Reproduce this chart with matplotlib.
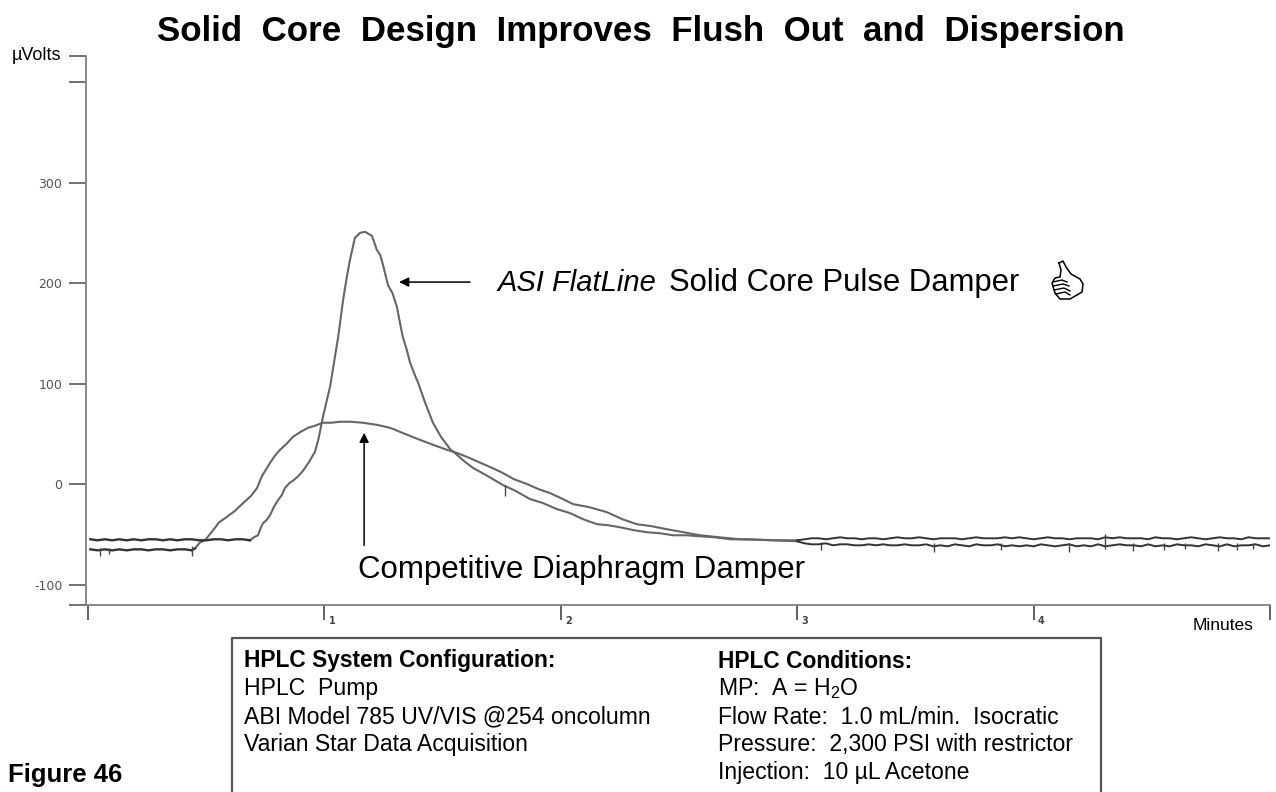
import numpy as np
import matplotlib
matplotlib.use('Agg')
import matplotlib.pyplot as plt
from matplotlib.lines import Line2D

plt.rcParams['font.family'] = ['Liberation Sans', 'DejaVu Sans']
plt.rcParams['mathtext.default'] = 'regular'

W, H = 1276, 792

# solid core damper trace (tall peak)
tall_start = [-55, -56, -55, -56, -55, -56, -55, -56, -55, -55, -56, -55, -56, -55, -55, -56, -56, -55, -55, -56, -55, -55, -56]
tall_min = [0.685, 0.702, 0.719, 0.730, 0.740, 0.755, 0.770, 0.788, 0.804, 0.820, 0.833, 0.852, 0.871, 0.890, 0.909, 0.935,
            0.960, 0.975, 0.994, 1.008, 1.024, 1.040, 1.058, 1.079, 1.094, 1.108,
            1.129, 1.151, 1.172, 1.201, 1.222, 1.236, 1.248, 1.269, 1.288, 1.307, 1.320, 1.332, 1.348, 1.362, 1.380, 1.396, 1.426, 1.459, 1.493, 1.531,
            1.561, 1.595, 1.629, 1.690, 1.755, 1.810, 1.870, 1.925, 1.984, 2.040, 2.094, 2.153, 2.200, 2.250, 2.310, 2.365, 2.420, 2.475, 2.530, 2.589,
            2.65, 2.72, 2.80, 2.90, 3.00]
tall_uv = [-56, -53, -51, -44, -39, -36, -31, -22, -16, -11, -4, 1, 4, 8, 13, 22,
           32, 45, 67, 81, 97, 120, 146, 183, 205, 223,
           245, 250, 251, 247, 233, 228, 218, 198, 190, 176, 160, 146, 134, 121, 110, 101, 81, 61, 47, 35,
           29, 22, 16, 8, -1, -7, -15, -19, -25, -29, -35, -40, -41, -43, -46, -48, -49, -51, -51, -52,
           -53, -55, -55, -56, -56]
tall_end = [-56, -55, -54, -54, -55, -54, -53, -54, -54, -55, -54, -54, -55, -54, -53, -54, -54, -53, -54, -55, -54, -54, -54, -55,
            -54, -53, -54, -54, -54, -53, -54, -53, -54, -55, -54, -53, -54, -54, -55, -54, -54, -54, -55, -53, -54, -53, -54, -54,
            -54, -55, -53, -54, -54, -55, -54, -53, -54, -55, -54, -53, -54, -54, -55, -53, -54, -54, -54]

# competitive diaphragm damper trace (broad peak)
broad_start = [-65, -66, -65, -66, -65, -66, -65, -65, -66, -65, -65, -66, -65, -65, -66]
broad_min = [0.453, 0.474, 0.495, 0.529, 0.555, 0.580, 0.620, 0.656, 0.689, 0.715, 0.736, 0.770, 0.790, 0.812, 0.840, 0.867, 0.900, 0.931,
             0.960, 0.994, 1.030, 1.066, 1.110, 1.163, 1.220, 1.277, 1.340, 1.404, 1.460, 1.519, 1.560, 1.603, 1.671, 1.710, 1.755, 1.800, 1.857,
             1.905, 1.954, 2.000, 2.052, 2.120, 2.195, 2.260, 2.322, 2.385, 2.449, 2.520, 2.589, 2.670, 2.758, 2.90, 3.00]
broad_uv = [-64, -58, -56, -46, -38, -34, -27, -19, -12, -4, 8, 21, 28, 34, 40, 47, 52, 56,
            58, 61, 61, 62, 62, 61, 59, 56, 50, 44, 39, 34, 31, 27, 20, 16, 11, 5, 0,
            -5, -9, -14, -20, -23, -28, -35, -40, -42, -45, -48, -51, -53, -55, -56, -57]
broad_end = [-57, -59, -60, -60, -59, -61, -60, -60, -61, -61, -60, -61, -60, -61, -61, -60, -61, -61, -60, -62, -61, -62, -60, -61,
             -62, -60, -61, -61, -60, -62, -61, -62, -61, -62, -60, -61, -62, -61, -60, -62, -61, -62, -60, -62, -61, -60, -61, -61,
             -62, -60, -62, -61, -62, -60, -61, -61, -62, -60, -61, -62, -60, -62, -61, -61, -60, -62, -61]

# narrow noise spikes on the flat parts of both traces
spike_min = [0.05, 0.09, 0.44, 1.762, 3.10, 3.58, 3.86, 4.15, 4.30, 4.42, 4.55, 4.64, 4.78, 4.86, 4.93]
spike_low = [-72, -70, -72, -12, -66, -68, -66, -68, -65, -67, -66, -65, -67, -66, -65]
spike_high = [-64, -64, -62, -1, -58, -59, -59, -59, -50, -59, -59, -59, -59, -59, -59]

start_grid = np.linspace(0.01, 0.685, len(tall_start))
broad_grid = np.linspace(0.01, 0.44, len(broad_start))
end_grid = np.linspace(3.0, 5.0, len(tall_end))

x_ticks = [0, 1, 2, 3, 4, 5]
x_labels = ['', '1', '2', '3', '4', '']
y_ticks = [426, 400, 300, 200, 100, 0, -100, -120.4]
y_labels = ['', '', '300', '200', '100', '0', '-100', '']

left_lines = ['HPLC  Pump', 'ABI Model 785 UV/VIS @254 oncolumn', 'Varian Star Data Acquisition']
right_lines = ['MP:  A = H$_2$O', 'Flow Rate:  1.0 mL/min.  Isocratic', 'Pressure:  2,300 PSI with restrictor',
               'Injection:  10 µL Acetone']


def px(x, y):
    return x / W, 1 - y / H


fig = plt.figure(figsize=(W / 100, H / 100), dpi=100)
ax = fig.add_axes([86 / W, 1 - 605 / H, (1270 - 86) / W, (605 - 56) / H])
ax.set_xlim(-0.0085, 5.0)
ax.set_ylim(-120.4, 425.9)

ax.plot(tall_min, tall_uv, color='#666666', lw=1.5)
ax.plot(broad_min, broad_uv, color='#666666', lw=1.5)
ax.plot(start_grid, tall_start, color='#333333', lw=1.7)
ax.plot(broad_grid, broad_start, color='#333333', lw=1.7)
ax.plot(end_grid, tall_end, color='#333333', lw=1.4)
ax.plot(end_grid, broad_end, color='#333333', lw=1.4)
ax.plot([broad_grid[-1], broad_min[0]], [broad_start[-1], broad_uv[0]], color='#333333', lw=1.5)
ax.vlines(spike_min, spike_low, spike_high, color='#444444', lw=1.0)

for s in ['top', 'right']:
    ax.spines[s].set_visible(False)
for s in ['left', 'bottom']:
    ax.spines[s].set_color('#808080')
    ax.spines[s].set_linewidth(1.3)

ax.set_xticks(x_ticks)
ax.set_xticklabels([])
ax.tick_params(axis='x', direction='out', length=11, width=1.3, color='#555555')
ax.set_yticks(y_ticks)
ax.set_yticklabels(y_labels, family='DejaVu Sans', fontsize=9, color='#555555')
ax.tick_params(axis='y', direction='out', length=12, width=1.3, color='#666666', pad=5)
for t, lab in zip(x_ticks, x_labels):
    ax.annotate(lab, (t, 0), xycoords=('data', 'axes fraction'), xytext=(3, -14), textcoords='offset points',
                family='DejaVu Sans', fontsize=7, color='#444444', weight='bold')

# arrows
ax.annotate('', xy=(1.316, 201), xytext=(1.616, 201),
            arrowprops=dict(arrowstyle='-|>', color='black', lw=1.1, mutation_scale=14, shrinkA=0, shrinkB=0))
ax.annotate('', xy=(1.168, 51), xytext=(1.168, -61),
            arrowprops=dict(arrowstyle='-|>', color='black', lw=1.1, mutation_scale=14, shrinkA=0, shrinkB=0))

# texts
fig.text(*px(641, 31), 'Solid  Core  Design  Improves  Flush  Out  and  Dispersion', ha='center', va='center',
         fontsize=25.1, weight='bold')
fig.text(*px(61, 56), 'µVolts', ha='right', va='center', fontsize=13)
fig.text(*px(1253, 625), 'Minutes', ha='right', va='center', fontsize=12.5)
fig.text(*px(497, 283), 'ASI FlatLine', ha='left', va='center', fontsize=21, style='italic')
fig.text(*px(669, 283), 'Solid Core Pulse Damper', ha='left', va='center', fontsize=22.3)
fig.text(*px(358, 570), 'Competitive Diaphragm Damper', ha='left', va='center', fontsize=22.5)
fig.text(*px(8, 775), 'Figure 46', ha='left', va='center', fontsize=18.5, weight='bold')

# info box, open at the bottom of the page
fig.add_artist(Line2D([232 / W, 232 / W, 1101 / W, 1101 / W], [0, 1 - 638 / H, 1 - 638 / H, 0], color='#555555', lw=1.6))
fig.text(*px(244, 661), 'HPLC System Configuration:', va='center', fontsize=16.4, weight='bold')
fig.text(*px(718, 661), 'HPLC Conditions:', va='center', fontsize=16.4, weight='bold')
for i, line in enumerate(left_lines):
    fig.text(*px(244, 689 + 28 * i), line, va='center', fontsize=16.6)
for i, line in enumerate(right_lines):
    fig.text(*px(718, 689 + 28 * i), line, va='center', fontsize=16.6)

# thumbs up icon
thumb = [(1059, 263), (1063, 261), (1066, 267), (1071, 274), (1080, 279), (1083, 284), (1082, 292), (1077, 295),
         (1070, 299), (1060, 299), (1055, 293), (1052, 283), (1055, 278), (1060, 277), (1061, 270), (1059, 263)]
fingers = [[(1053, 282), (1062, 280), (1067, 282)], [(1053, 286), (1063, 284), (1069, 286)],
           [(1054, 290), (1064, 288), (1070, 291)], [(1056, 294), (1065, 292), (1070, 295)]]
fig.add_artist(Line2D([p[0] / W for p in thumb], [1 - p[1] / H for p in thumb], color='black', lw=1.1))
for f in fingers:
    fig.add_artist(Line2D([p[0] / W for p in f], [1 - p[1] / H for p in f], color='black', lw=1.0))

fig.savefig('out.png', dpi=100)
